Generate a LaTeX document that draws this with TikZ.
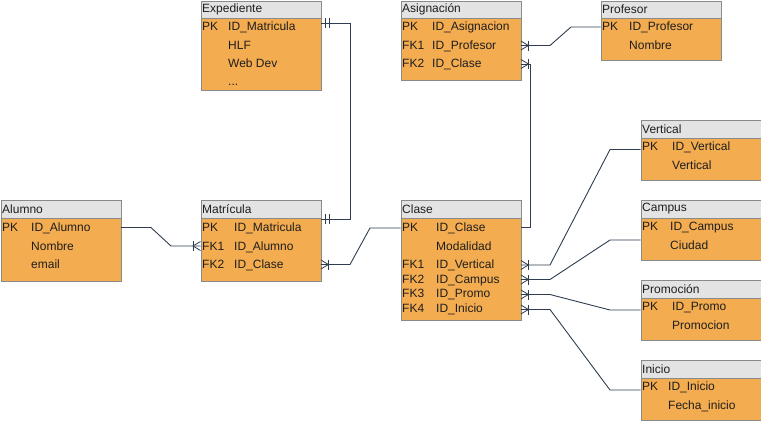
\documentclass[tikz,border=0pt]{standalone}
\usepackage{fontspec}
\setmainfont{Liberation Sans}
\definecolor{bodyor}{HTML}{F4AC50}
\definecolor{hdrgray}{HTML}{E3E3E3}
\definecolor{bordgray}{HTML}{8A8A8A}
\definecolor{connc}{HTML}{2E3D4F}
\definecolor{txtc}{HTML}{1E1E1E}
\tikzset{
  hdr/.style={draw=bordgray, fill=hdrgray, anchor=north west, minimum width=120pt, text width=117pt, inner xsep=1.5pt, inner ysep=0pt, align=left, font=\fontsize{12}{14}\selectfont, text=txtc},
  bodybox/.style={draw=bordgray, fill=bodyor, anchor=north west, minimum width=120pt, inner sep=0pt},
  lbl/.style={anchor=base west, inner sep=0pt, font=\fontsize{12}{14}\selectfont, text=txtc},
  conn/.style={draw=connc, line width=0.9pt},
  crow/.pic={\draw[connc, line width=0.8pt] (0,-4.5) -- (7.5,0) -- (0,4.5); \draw[connc, line width=0.8pt] (7.5,-5) -- (7.5,5);},
  onebars/.pic={\draw[connc, line width=0.8pt] (4,-5) -- (4,5) (8,-5) -- (8,5);}
}
\begin{document}
\begin{tikzpicture}[x=1pt, y=-1pt]
\useasboundingbox (0,0) rectangle (761,421);
% ---------- Alumno
\node[bodybox, minimum height=63pt] (alu-b) at (0.5,217.5) {};
\node[hdr, minimum height=17.5pt] (alu-h) at (0.5,200) {Alumno};
\node[lbl] (alu-k1) at (2,231.5) {PK};
\node[lbl] (alu-f1) at (31,231.5) {ID\_Alumno};
\node[lbl] (alu-f2) at (31,250) {Nombre};
\node[lbl] (alu-f3) at (31,268.5) {email};
% ---------- Expediente
\node[bodybox, minimum height=72.5pt] (exp-b) at (200.5,17.5) {};
\node[hdr, minimum height=17.5pt] (exp-h) at (200.5,0.5) {Expediente};
\node[lbl] (exp-k1) at (202,30.5) {PK};
\node[lbl] (exp-f1) at (228,30.5) {ID\_Matricula};
\node[lbl] (exp-f2) at (228,49.5) {HLF};
\node[lbl] (exp-f3) at (228,67.5) {Web Dev};
\node[lbl] (exp-f4) at (228,85.5) {...};
% ---------- Matricula
\node[bodybox, minimum height=63pt] (mat-b) at (200.5,217.5) {};
\node[hdr, minimum height=17.5pt] (mat-h) at (200.5,200) {Matrícula};
\node[lbl] (mat-k1) at (202,231.5) {PK};
\node[lbl] (mat-f1) at (234,231.5) {ID\_Matricula};
\node[lbl] (mat-k2) at (202,250) {FK1};
\node[lbl] (mat-f2) at (234,250) {ID\_Alumno};
\node[lbl] (mat-k3) at (202,268.5) {FK2};
\node[lbl] (mat-f3) at (234,268.5) {ID\_Clase};
% ---------- Asignacion
\node[bodybox, minimum height=62.5pt] (asg-b) at (400.5,17.5) {};
\node[hdr, minimum height=17.5pt] (asg-h) at (400.5,0.5) {Asignación};
\node[lbl] (asg-k1) at (402,30.5) {PK};
\node[lbl] (asg-f1) at (432,30.5) {ID\_Asignacion};
\node[lbl] (asg-k2) at (402,49.5) {FK1};
\node[lbl] (asg-f2) at (432,49.5) {ID\_Profesor};
\node[lbl] (asg-k3) at (402,67.5) {FK2};
\node[lbl] (asg-f3) at (432,67.5) {ID\_Clase};
% ---------- Profesor
\node[bodybox, minimum height=42.5pt] (pro-b) at (600.5,17.5) {};
\node[hdr, minimum height=17.5pt] (pro-h) at (600.5,0.5) {Profesor};
\node[lbl] (pro-k1) at (602,30.5) {PK};
\node[lbl] (pro-f1) at (629,30.5) {ID\_Profesor};
\node[lbl] (pro-f2) at (629,49.5) {Nombre};
% ---------- Clase
\node[bodybox, minimum height=102.5pt] (cls-b) at (400.5,217.5) {};
\node[hdr, minimum height=17.5pt] (cls-h) at (400.5,200) {Clase};
\node[lbl] (cls-k1) at (402,231.5) {PK};
\node[lbl] (cls-f1) at (436,231.5) {ID\_Clase};
\node[lbl] (cls-f2) at (436,250) {Modalidad};
\node[lbl] (cls-k3) at (402,268.5) {FK1};
\node[lbl] (cls-f3) at (436,268.5) {ID\_Vertical};
\node[lbl] (cls-k4) at (402,283) {FK2};
\node[lbl] (cls-f4) at (436,283) {ID\_Campus};
\node[lbl] (cls-k5) at (402,297.5) {FK3};
\node[lbl] (cls-f5) at (436,297.5) {ID\_Promo};
\node[lbl] (cls-k6) at (402,312) {FK4};
\node[lbl] (cls-f6) at (436,312) {ID\_Inicio};
% ---------- Vertical
\node[bodybox, minimum height=42.5pt] (ver-b) at (640.5,137.5) {};
\node[hdr, minimum height=17.5pt] (ver-h) at (640.5,120) {Vertical};
\node[lbl] (ver-k1) at (642,150.5) {PK};
\node[lbl] (ver-f1) at (672,150.5) {ID\_Vertical};
\node[lbl] (ver-f2) at (672,169.5) {Vertical};
% ---------- Campus
\node[bodybox, minimum height=42.5pt] (cam-b) at (640.5,217.5) {};
\node[hdr, minimum height=17.5pt] (cam-h) at (640.5,200) {Campus};
\node[lbl] (cam-k1) at (642,230.5) {PK};
\node[lbl] (cam-f1) at (670,230.5) {ID\_Campus};
\node[lbl] (cam-f2) at (670,249.5) {Ciudad};
% ---------- Promocion
\node[bodybox, minimum height=42.5pt] (prm-b) at (640.5,297.5) {};
\node[hdr, minimum height=17.5pt] (prm-h) at (640.5,280) {Promoción};
\node[lbl] (prm-k1) at (642,310.5) {PK};
\node[lbl] (prm-f1) at (672,310.5) {ID\_Promo};
\node[lbl] (prm-f2) at (672,329.5) {Promocion};
% ---------- Inicio
\node[bodybox, minimum height=42pt] (ini-b) at (640.5,377.5) {};
\node[hdr, minimum height=17.5pt] (ini-h) at (640.5,360) {Inicio};
\node[lbl] (ini-k1) at (642,390.5) {PK};
\node[lbl] (ini-f1) at (668,390.5) {ID\_Inicio};
\node[lbl] (ini-f2) at (668,409.5) {Fecha\_inicio};
% ---------- connection points
\coordinate (aluPK) at (alu-b.east |- 0,227.5);
\coordinate (matFK1) at (mat-b.west |- 0,246);
\coordinate (expPK) at (exp-b.east |- 0,23);
\coordinate (matPK) at (mat-b.east |- 0,219);
\coordinate (matFK2) at (mat-b.east |- 0,264.5);
\coordinate (clsPK) at (cls-b.west |- 0,228);
\coordinate (asgFK1) at (asg-b.east |- 0,45.5);
\coordinate (proPK) at (pro-b.west |- 0,27);
\coordinate (asgFK2) at (asg-b.east |- 0,64);
\coordinate (clsPKr) at (cls-b.east |- 0,227);
\coordinate (clsFK1) at (cls-b.east |- 0,265);
\coordinate (clsFK2) at (cls-b.east |- 0,279.5);
\coordinate (clsFK3) at (cls-b.east |- 0,294.5);
\coordinate (clsFK4) at (cls-b.east |- 0,309.5);
\coordinate (verPK) at (ver-b.west |- 0,149.5);
\coordinate (camPK) at (cam-b.west |- 0,240);
\coordinate (prmPK) at (prm-b.west |- 0,310);
\coordinate (iniPK) at (ini-b.west |- 0,390);
% ---------- connectors
\draw[conn] (aluPK) -- ++(30,0) -- (171,246) -- (matFK1);
\pic[xscale=-1] at (matFK1) {crow};
\draw[conn] (expPK) -- (350,23) -- (350,219) -- (matPK);
\pic at (expPK) {onebars};
\pic at (matPK) {onebars};
\draw[conn] (matFK2) -- (350,264.5) -- (370,228) -- (clsPK);
\pic at (matFK2) {crow};
\draw[conn] (asgFK1) -- (550,45.5) -- (571,27) -- (proPK);
\pic at (asgFK1) {crow};
\draw[conn] (asgFK2) -- (530.5,64) -- (530.5,227) -- (clsPKr);
\pic at (asgFK2) {crow};
\draw[conn] (clsFK1) -- (550,265) -- (610,149.5) -- (verPK);
\pic at (clsFK1) {crow};
\draw[conn] (clsFK2) -- (550,279.5) -- (610,240) -- (camPK);
\pic at (clsFK2) {crow};
\draw[conn] (clsFK3) -- (550,294.5) -- (610,310) -- (prmPK);
\pic at (clsFK3) {crow};
\draw[conn] (clsFK4) -- (550,309.5) -- (610,390) -- (iniPK);
\pic at (clsFK4) {crow};
\end{tikzpicture}
\end{document}
